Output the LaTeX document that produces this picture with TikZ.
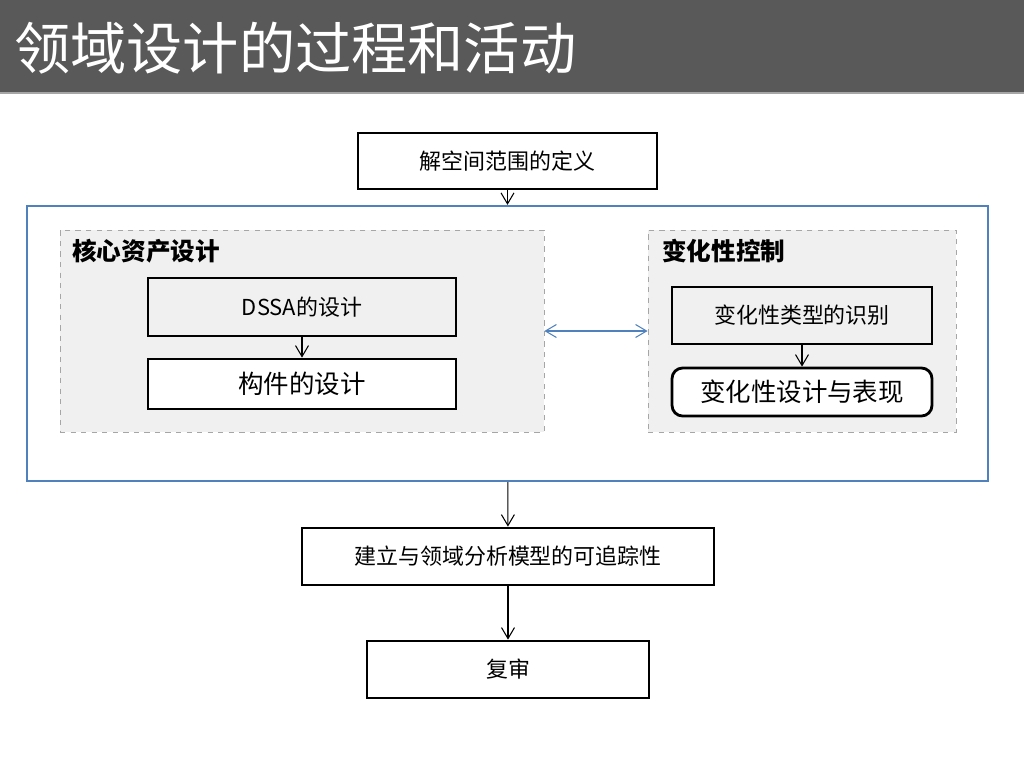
\documentclass[tikz,border=0pt]{standalone}
\usepackage{fontspec}
\setmainfont{Noto Sans CJK SC}
\usetikzlibrary{arrows.meta}

\definecolor{titlegray}{HTML}{595959}
\definecolor{panelgray}{HTML}{F0F0F0}
\definecolor{dashgray}{HTML}{A6A6A6}
\definecolor{frameblue}{HTML}{4F81BD}

\tikzset{
  stepbox/.style={draw=black, line width=1.6pt, fill=white, inner sep=0pt,
    font=\fontsize{12.5}{14}\selectfont},
  bigbox/.style={stepbox, font=\fontsize{14.5}{16}\selectfont},
  panel/.style={draw=dashgray, dashed, line width=0.5pt, fill=panelgray, inner sep=0pt},
  flow/.style={-{Straight Barb[length=2.2mm,width=2.6mm]}, line width=0.6pt},
  biarrow/.style={{Straight Barb[length=2.2mm,width=2.6mm]}-{Straight Barb[length=2.2mm,width=2.6mm]},
    draw=frameblue, line width=0.6pt}
}

\begin{document}
\begin{tikzpicture}[x=0.02cm, y=-0.02cm]
\useasboundingbox (0,0) rectangle (1024,768);
% title bar
\fill[titlegray] (0,0) rectangle (1024,92);
\fill[gray!70] (0,92) rectangle (1024,94);
\node[anchor=west, text=white, font=\fontsize{32}{34}\selectfont] (title) at (8,48) {领域设计的过程和活动};

\node[stepbox, minimum width=5.98cm, minimum height=1.12cm] (scope) at (507.5,161) {解空间范围的定义};
\node[draw=frameblue, line width=1.3pt, minimum width=19.22cm, minimum height=5.5cm] (domain) at (507.5,343.5) {};

% left panel
\node[panel, minimum width=9.68cm, minimum height=4.04cm] (core) at (302,331) {};
\node[anchor=west, font=\fontsize{14}{16}\selectfont\bfseries] (coretitle) at (66,251) {核心资产设计};
\node[stepbox, fill=panelgray, minimum width=6.16cm, minimum height=1.16cm] (dssa) at (302,307) {DSSA的设计};
\node[bigbox, minimum width=6.16cm, minimum height=1.0cm] (comp) at (302,384) {构件的设计};

% right panel
\node[panel, minimum width=6.16cm, minimum height=4.04cm] (var) at (802,331) {};
\node[anchor=west, font=\fontsize{14}{16}\selectfont\bfseries] (vartitle) at (656,251) {变化性控制};
\node[stepbox, fill=panelgray, minimum width=5.2cm, minimum height=1.14cm] (vtype) at (802,315.5) {变化性类型的识别};
\node[bigbox, rounded corners=6pt, minimum width=5.2cm, minimum height=0.96cm] (vdesign) at (802,392) {变化性设计与表现};

\node[stepbox, minimum width=8.24cm, minimum height=1.14cm] (trace) at (508,556.5) {建立与领域分析模型的可追踪性};
\node[stepbox, minimum width=5.64cm, minimum height=1.14cm] (review) at (508,669.5) {复审};

% connectors
\draw[flow] (scope) -- (domain);
\draw[flow] (dssa) -- (comp);
\draw[flow] (vtype) -- (vdesign);
\draw[biarrow] (core) -- (var);
\draw[flow] (domain) -- (trace);
\draw[flow] (trace) -- (review);
\end{tikzpicture}
\end{document}
